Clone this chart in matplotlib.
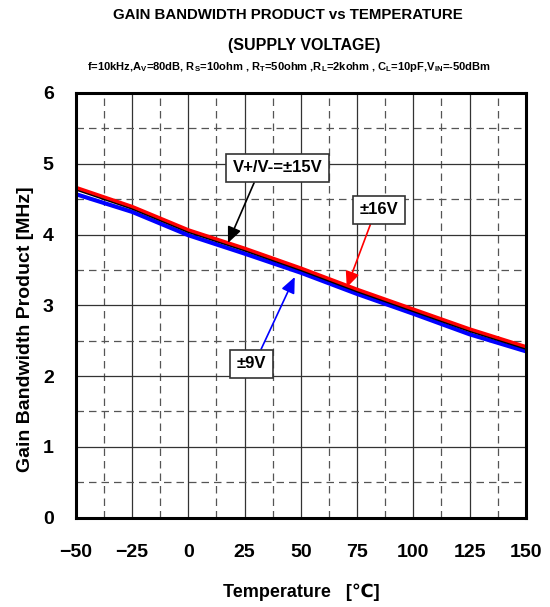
import matplotlib
matplotlib.use("Agg")
import matplotlib.pyplot as plt
from matplotlib.ticker import MultipleLocator

plt.rcParams['font.family'] = ['Liberation Sans', 'DejaVu Sans']
plt.rcParams['font.weight'] = 'bold'
plt.rcParams['axes.labelweight'] = 'bold'
plt.rcParams['mathtext.default'] = 'regular'

# data
temps = [-50, -25, 0, 25, 50, 75, 100, 125, 150]
gbw_16v = [4.66, 4.39, 4.06, 3.80, 3.52, 3.22, 2.94, 2.66, 2.41]
gbw_15v = [4.63, 4.36, 4.03, 3.77, 3.49, 3.19, 2.91, 2.63, 2.38]
gbw_9v = [4.57, 4.32, 3.99, 3.73, 3.46, 3.16, 2.88, 2.59, 2.35]

x_ticks = [-50, -25, 0, 25, 50, 75, 100, 125, 150]
y_ticks = [0, 1, 2, 3, 4, 5, 6]

fig = plt.figure(figsize=(5.5, 6.07), dpi=100)
ax = fig.add_axes([0.138, 0.1474, 0.818, 0.6994])

ax.plot(temps, gbw_9v, color='blue', lw=3, zorder=3)
ax.plot(temps, gbw_16v, color='red', lw=3, zorder=4)
ax.plot(temps, gbw_15v, color='black', lw=1.0, zorder=5)

ax.set_xlim(-50, 150)
ax.set_ylim(0, 6)
ax.set_xticks(x_ticks)
ax.set_yticks(y_ticks)
ax.xaxis.set_minor_locator(MultipleLocator(12.5))
ax.yaxis.set_minor_locator(MultipleLocator(0.5))
ax.tick_params(which='both', direction='in', labelsize=14)
ax.tick_params(axis='x', which='major', pad=19)
ax.tick_params(axis='y', which='major', pad=16)
ax.tick_params(which='major', length=0)
ax.tick_params(which='minor', length=4, color='#555555')
ax.grid(which='major', color='#333333', lw=0.9, ls='-')
ax.grid(which='minor', color='#555555', lw=0.9, ls=(0, (6, 4)))
for s in ax.spines.values():
    s.set_linewidth(2.2)
    s.set_zorder(6)

ax.set_xlabel('Temperature   [\u2103]', fontsize=13, labelpad=16)
ax.set_ylabel('Gain Bandwidth Product [MHz]', fontsize=14, labelpad=6, y=0.444)

fig.text(0.523, 0.975, 'GAIN BANDWIDTH PRODUCT vs TEMPERATURE', ha='center', va='center', fontsize=10.8)
fig.text(0.553, 0.925, '(SUPPLY VOLTAGE)', ha='center', va='center', fontsize=11.5)
fig.text(0.525, 0.889, 'f=10kHz,A$_V$=80dB, R$_S$=10ohm , R$_T$=50ohm ,R$_L$=2kohm , C$_L$=10pF,V$_{IN}$=-50dBm',
         ha='center', va='center', fontsize=8)

box = dict(boxstyle='square,pad=0.4', fc='white', ec='#333333', lw=1.2)
ax.annotate('V+/V-=\u00b115V', xy=(17.6, 3.88), xytext=(39.8, 4.94), ha='center', va='center',
            fontsize=12, bbox=box, zorder=7,
            arrowprops=dict(arrowstyle='-|>,head_length=0.8,head_width=0.35', color='black', lw=1.2,
                            shrinkA=0, shrinkB=0, relpos=(0.27, 0)))
ax.annotate('\u00b116V', xy=(70.4, 3.25), xytext=(84.7, 4.35), ha='center', va='center',
            fontsize=12, bbox=box, zorder=7,
            arrowprops=dict(arrowstyle='-|>,head_length=0.8,head_width=0.35', color='red', lw=1.2,
                            shrinkA=0, shrinkB=0, relpos=(0.35, 0)))
ax.annotate('\u00b19V', xy=(47.3, 3.40), xytext=(28.2, 2.17), ha='center', va='center',
            fontsize=12, bbox=box, zorder=7,
            arrowprops=dict(arrowstyle='-|>,head_length=0.8,head_width=0.35', color='blue', lw=1.2,
                            shrinkA=0, shrinkB=0, relpos=(0.7, 1)))

fig.savefig('out.png', dpi=100)
